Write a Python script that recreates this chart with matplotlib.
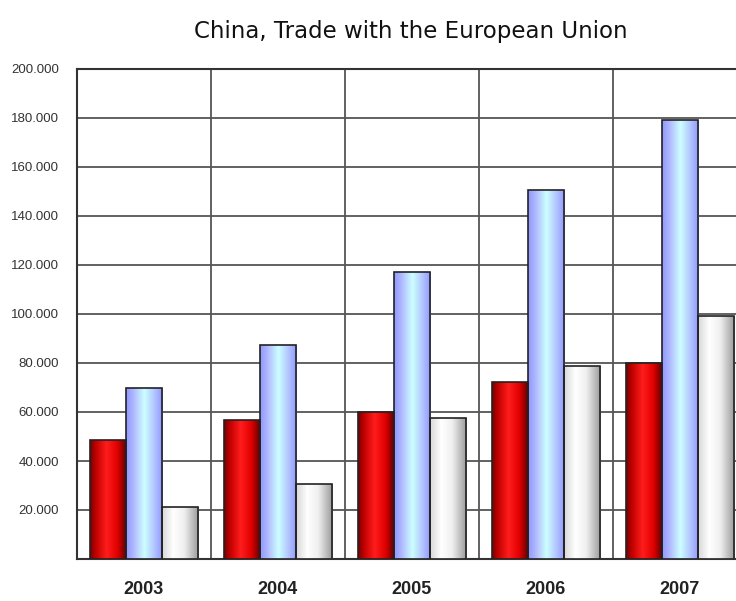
import numpy as np
import matplotlib
matplotlib.use('Agg')
import matplotlib.pyplot as plt
from matplotlib.colors import LinearSegmentedColormap
from matplotlib.ticker import FuncFormatter

#===============Data============================
years = ['2003', '2004', '2005', '2006', '2007']
red_vals = [48.6, 56.7, 60.0, 72.3, 80.0]
blue_vals = [69.8, 87.3, 117.1, 150.6, 179.2]
white_vals = [21.2, 30.6, 57.6, 78.6, 99.2]

#===============Shading============================
red_cm = LinearSegmentedColormap.from_list(
    'redbar', [(0, '#7a0000'), (0.15, '#c00000'), (0.45, '#ff1c1c'),
               (0.75, '#e00000'), (1, '#5a0000')])
blue_cm = LinearSegmentedColormap.from_list(
    'bluebar', [(0, '#9098ff'), (0.2, '#b0b8ff'), (0.5, '#ccffff'),
                (0.8, '#b0c0ff'), (1, '#9098ff')])
white_cm = LinearSegmentedColormap.from_list(
    'whitebar', [(0, '#d8d8d8'), (0.3, '#ffffff'), (0.6, '#f0f0f0'),
                 (1, '#9a9a9a')])

fig = plt.figure(figsize=(7.36, 6.01), dpi=100)
ax = fig.add_axes([77/736, 42/601, 670/736, 490/601])

x = np.arange(len(years))
w = 0.27
grad = np.linspace(0, 1, 64).reshape(1, -1)

for off, vals, cm in [(-w, red_vals, red_cm), (0, blue_vals, blue_cm),
                      (w, white_vals, white_cm)]:
    bars = ax.bar(x + off, vals, width=w, color='none', edgecolor='#222222',
                  linewidth=1.2, zorder=4)
    for b in bars:
        x0, y0 = b.get_x(), b.get_y()
        im = ax.imshow(grad, cmap=cm, aspect='auto', zorder=3,
                       extent=[x0, x0 + b.get_width(), y0, y0 + b.get_height()])
        im.set_clip_path(b)

ax.set_xlim(-0.5, 4.5)
ax.set_ylim(0, 200)
ax.set_yticks(np.arange(20, 201, 20))
ax.yaxis.set_major_formatter(FuncFormatter(lambda v, p: '%d.000' % v))
ax.set_xticks(x)
ax.set_xticklabels(years, fontsize=13, fontweight='bold',
                   family=['Liberation Sans Narrow', 'Liberation Sans'],
                   color='#222222')
for lab in ax.get_yticklabels():
    lab.set_fontsize(9.5)
    lab.set_family(['Liberation Sans Narrow', 'Liberation Sans'])
    lab.set_color('#333333')
ax.tick_params(axis='both', length=0)
ax.tick_params(axis='y', pad=13)
ax.tick_params(axis='x', pad=16)

for yv in np.arange(20, 201, 20):
    ax.axhline(yv, color='#555555', linewidth=1.3, zorder=1)
for xv in np.arange(0.5, 4.6, 1):
    ax.axvline(xv, color='#555555', linewidth=1.3, zorder=1)

for s in ['left', 'bottom', 'top']:
    ax.spines[s].set_color('#333333')
    ax.spines[s].set_linewidth(1.5)
ax.spines['right'].set_visible(False)

fig.text(0.558, 0.948, 'China, Trade with the European Union', ha='center',
         va='center', fontsize=16.5, family='DejaVu Sans', color='#111111')

fig.savefig('out.png', dpi=100)
